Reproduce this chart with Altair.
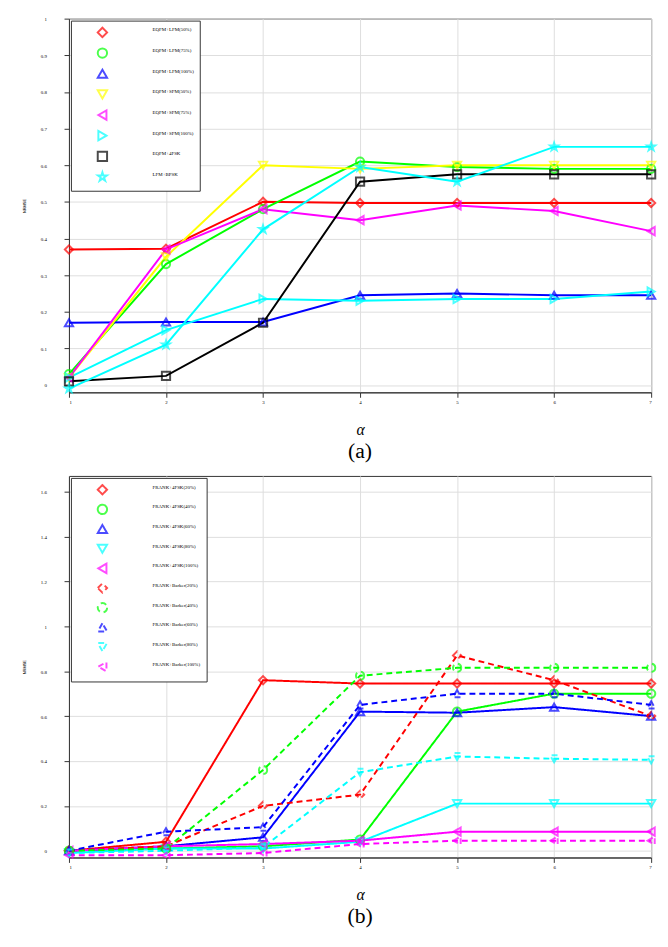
import pandas as pd
import altair as alt

alpha = [1, 2, 3, 4, 5, 6, 7]

# panel (a)
names_a = ['EQFM+LFM(50%)', 'EQFM+LFM(75%)', 'EQFM+LFM(100%)', 'EQFM+SFM(50%)',
           'EQFM+SFM(75%)', 'EQFM+SFM(100%)', 'EQFM+4FSK', 'LFM+BPSK']
vals_a = [
    [0.37, 0.372, 0.50, 0.497, 0.497, 0.497, 0.497],
    [0.03, 0.33, 0.48, 0.61, 0.595, 0.59, 0.59],
    [0.17, 0.172, 0.172, 0.245, 0.25, 0.245, 0.245],
    [0.02, 0.35, 0.60, 0.59, 0.60, 0.60, 0.60],
    [0.02, 0.37, 0.48, 0.45, 0.49, 0.475, 0.42],
    [0.02, 0.15, 0.235, 0.23, 0.235, 0.235, 0.255],
    [0.01, 0.025, 0.17, 0.555, 0.575, 0.575, 0.575],
    [-0.01, 0.11, 0.425, 0.595, 0.555, 0.65, 0.65],
]
colors_a = ['#ff0000', '#00ff00', '#0000ff', '#ffff00', '#ff00ff', '#00ffff', '#000000', '#00ffff']
STAR = 'M0,-1L0.22,-0.31L0.95,-0.31L0.36,0.12L0.59,0.81L0,0.38L-0.59,0.81L-0.36,0.12L-0.95,-0.31L-0.22,-0.31Z'
shapes_a = ['diamond', 'circle', 'triangle-up', 'triangle-down', 'triangle-left',
            'triangle-right', 'square', STAR]

# panel (b)
names_b = ['FRANK+4FSK(20%)', 'FRANK+4FSK(40%)', 'FRANK+4FSK(60%)', 'FRANK+4FSK(80%)',
           'FRANK+4FSK(100%)', 'FRANK+Barker(20%)', 'FRANK+Barker(40%)',
           'FRANK+Barker(60%)', 'FRANK+Barker(80%)', 'FRANK+Barker(100%)']
vals_b = [
    [0.0, 0.04, 0.76, 0.745, 0.745, 0.745, 0.745],
    [0.0, 0.01, 0.02, 0.05, 0.62, 0.70, 0.70],
    [0.0, 0.02, 0.06, 0.62, 0.615, 0.64, 0.60],
    [-0.01, 0.01, 0.01, 0.04, 0.21, 0.21, 0.21],
    [0.0, 0.02, 0.03, 0.045, 0.085, 0.085, 0.085],
    [0.0, 0.02, 0.20, 0.25, 0.87, 0.76, 0.60],
    [0.0, 0.01, 0.36, 0.78, 0.815, 0.815, 0.815],
    [0.0, 0.085, 0.105, 0.65, 0.70, 0.70, 0.65],
    [-0.01, 0.0, 0.015, 0.35, 0.42, 0.41, 0.405],
    [-0.02, -0.02, -0.01, 0.03, 0.045, 0.045, 0.045],
]
colors_b = ['#ff0000', '#00ff00', '#0000ff', '#00ffff', '#ff00ff'] * 2
shapes_b = ['diamond', 'circle', 'triangle-up', 'triangle-down', 'triangle-left'] * 2
dash_b = [[1, 0]] * 5 + [[6, 4]] * 5


def frame(names, vals):
    rows = []
    for n, v in zip(names, vals):
        for a, y in zip(alpha, v):
            rows.append({'series': n, 'alpha': a, 'y': y})
    return pd.DataFrame(rows)


def panel(names, vals, colors, shapes, ydom, yticks, dashes, tag, h, rowpad):
    df = frame(names, vals)
    leg = alt.Legend(title=None, orient='top-left', offset=2, fillColor='white',
                     strokeColor='#333', padding=6, labelFontSize=5, labelFont='Liberation Serif',
                     symbolSize=90, symbolStrokeWidth=2, rowPadding=rowpad, labelLimit=200,
                     labelBaseline='bottom', labelOffset=45, symbolOffset=20)
    x = alt.X('alpha:Q', scale=alt.Scale(domain=[1, 7], nice=False),
              axis=alt.Axis(values=alpha, title='α', titleFont='Liberation Serif',
                            titleFontStyle='italic', titleFontWeight='normal', titleFontSize=16,
                            titlePadding=18, labelFontSize=5, labelFont='Liberation Serif',
                            gridColor='#ddd', domainColor='#333', tickColor='#333'))
    y = alt.Y('y:Q', scale=alt.Scale(domain=ydom, nice=False, zero=False),
              axis=alt.Axis(values=yticks, format='~g', title='NRMSE', titleFontSize=4,
                            titleFontWeight='normal', titlePadding=14, labelFontSize=5,
                            labelFont='Liberation Serif', labelPadding=18,
                            gridColor='#ddd', domainColor='#333', tickColor='#333'))
    col = alt.Color('series:N', scale=alt.Scale(domain=names, range=colors), legend=leg)
    shp = alt.Shape('series:N', scale=alt.Scale(domain=names, range=shapes), legend=leg)
    enc = dict(x=x, y=y, color=col, shape=shp)
    if dashes:
        enc['strokeDash'] = alt.StrokeDash('series:N', scale=alt.Scale(domain=names, range=dashes), legend=leg)
    line = alt.Chart(df).mark_line(strokeWidth=2).encode(
        x=x, y=y, color=col, detail='series:N',
        **({'strokeDash': enc['strokeDash']} if dashes else {}))
    pts = alt.Chart(df).mark_point(filled=False, size=70, strokeWidth=2).encode(**enc)
    return alt.layer(line, pts).properties(
        width=592, height=h,
        title=alt.TitleParams(tag, orient='bottom', font='Liberation Serif', fontSize=22,
                              fontWeight='normal', offset=4))


top = panel(names_a, vals_a, colors_a, shapes_a, [-0.02, 1.0],
            [0, 0.1, 0.2, 0.3, 0.4, 0.5, 0.6, 0.7, 0.8, 0.9, 1], None, '(a)', 380, 3)
bot = panel(names_b, vals_b, colors_b, shapes_b, [-0.03, 1.67],
            [0, 0.2, 0.4, 0.6, 0.8, 1, 1.2, 1.4, 1.6], dash_b, '(b)', 388, 2)

chart = alt.vconcat(top, bot, spacing=12).resolve_scale(
    color='independent', shape='independent', strokeDash='independent'
).configure_view(stroke='#333').properties(padding={'left': 14, 'top': 0, 'right': 0, 'bottom': 0})

chart.save("out.html", embed_options={"renderer": "svg", "actions": False})
